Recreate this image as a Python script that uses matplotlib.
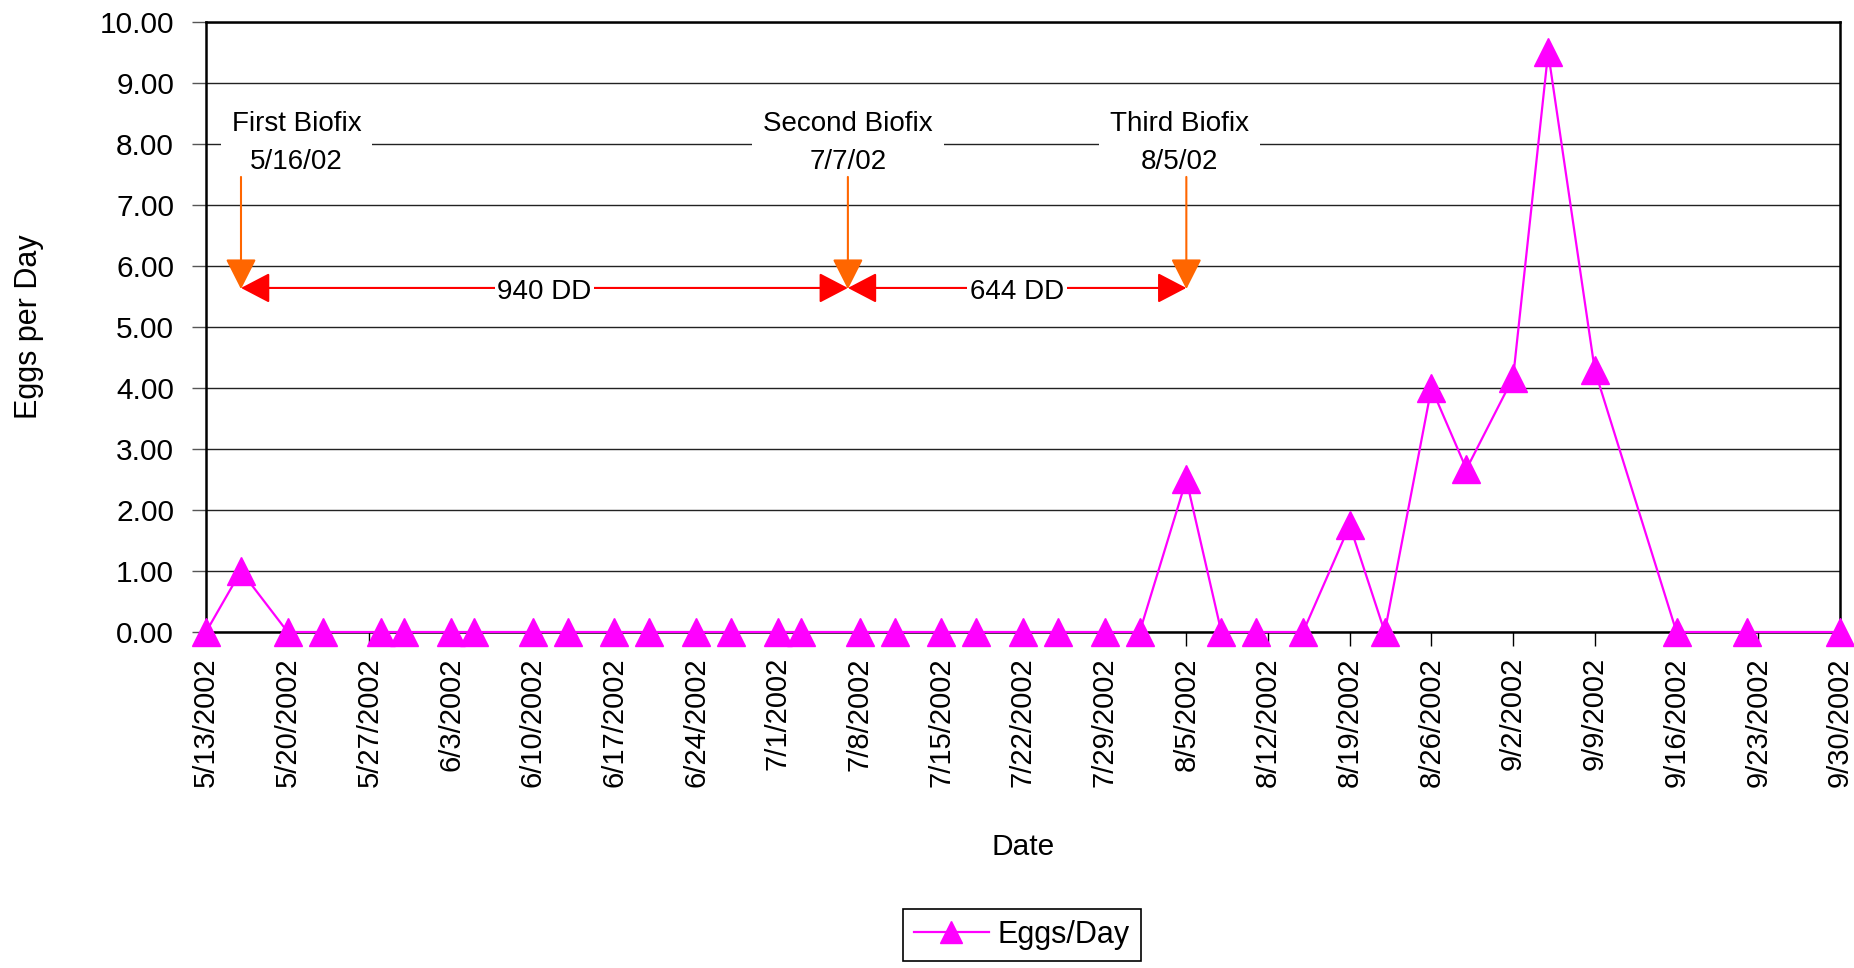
"""
codling moth egg counts per day, 2002 season, with the three biofix dates
and the degree-day totals between them
"""

import pandas as pd
import matplotlib
matplotlib.use("Agg")
import matplotlib.pyplot as plt
import matplotlib.dates as mdates
from matplotlib.ticker import FuncFormatter, FormatStrFormatter

plt.rcParams['font.family'] = ['Liberation Sans', 'DejaVu Sans']

# sample dates and eggs per day
sample_dates = ['2002-05-13', '2002-05-16', '2002-05-20', '2002-05-23', '2002-05-28',
                '2002-05-30', '2002-06-03', '2002-06-05', '2002-06-10', '2002-06-13',
                '2002-06-17', '2002-06-20', '2002-06-24', '2002-06-27', '2002-07-01',
                '2002-07-03', '2002-07-08', '2002-07-11', '2002-07-15', '2002-07-18',
                '2002-07-22', '2002-07-25', '2002-07-29', '2002-08-01', '2002-08-05',
                '2002-08-08', '2002-08-11', '2002-08-15', '2002-08-19', '2002-08-22',
                '2002-08-26', '2002-08-29', '2002-09-02', '2002-09-05', '2002-09-09',
                '2002-09-16', '2002-09-22', '2002-09-30']
eggs_per_day = [0, 1.0, 0, 0, 0,
                0, 0, 0, 0, 0,
                0, 0, 0, 0, 0,
                0, 0, 0, 0, 0,
                0, 0, 0, 0, 2.5,
                0, 0, 0, 1.75, 0,
                4.0, 2.67, 4.17, 9.5, 4.29,
                0, 0, 0]

# biofix dates and degree days between them
biofix_names = ['First Biofix', 'Second Biofix', 'Third Biofix']
biofix_dates = ['2002-05-16', '2002-07-07', '2002-08-05']
biofix_labels = ['5/16/02', '7/7/02', '8/5/02']
dd_labels = ['940 DD', '644 DD']

x_start, x_end = '2002-05-13', '2002-09-30'

dates = pd.to_datetime(sample_dates)
bio = pd.to_datetime(biofix_dates)
week_ticks = pd.date_range(x_start, x_end, freq='7D')

fig = plt.figure(figsize=(18.54, 9.68), dpi=100)
ax = fig.add_axes([0.1111, 0.3471, 0.8813, 0.6302])

ax.plot(dates, eggs_per_day, color='#FF00FF', lw=1.6, marker='^', ms=20,
        mec='#FF00FF', mfc='#FF00FF', label='Eggs/Day', clip_on=False, zorder=3)

ax.set_xlim(pd.Timestamp(x_start), pd.Timestamp(x_end))
ax.set_ylim(0, 10)
ax.set_yticks(range(0, 11))
ax.yaxis.set_major_formatter(FormatStrFormatter('%.2f'))
ax.set_xticks(week_ticks)
ax.xaxis.set_major_formatter(FuncFormatter(
    lambda v, pos: f"{mdates.num2date(v).month}/{mdates.num2date(v).day}/{mdates.num2date(v).year}"))
ax.tick_params(axis='x', labelrotation=90, labelsize=21, length=10, width=1, pad=8)
ax.tick_params(axis='y', labelsize=21.5, length=10, width=1, pad=13, color='#555555')

ax.grid(axis='y', color='#222222', lw=1.0)
ax.set_axisbelow(True)
for s in ax.spines.values():
    s.set_linewidth(1.8)
    s.set_color('black')

ax.set_xlabel('Date', fontsize=21.5)
ax.xaxis.set_label_coords(0.5, -0.33)
ax.set_ylabel('Eggs per Day', fontsize=22)
ax.yaxis.set_label_coords(-0.099, 0.5)

# biofix labels and orange arrows
text_dx = [40, 0, -5]
for name, d, lab, dx in zip(biofix_names, bio, biofix_labels, text_dx):
    ax.annotate(f"{name}\n{lab}", xy=(d, 8.02), xytext=(dx, 0), textcoords='offset points',
                ha='center', va='center', fontsize=20, linespacing=1.6, zorder=4,
                bbox=dict(boxstyle='square,pad=0.4', facecolor='white', edgecolor='none'))
    ax.annotate('', xy=(d, 5.62), xytext=(d, 7.46),
                arrowprops=dict(arrowstyle='-|>,head_length=0.95,head_width=0.48',
                                color='#FF6600', lw=1.5, shrinkA=0, shrinkB=0,
                                mutation_scale=20), zorder=6)

# red degree-day arrows between biofixes
for i, lab in enumerate(dd_labels):
    ax.annotate('', xy=(bio[i + 1], 5.64), xytext=(bio[i], 5.64),
                arrowprops=dict(arrowstyle='<|-|>,head_length=0.9,head_width=0.47',
                                color='#FF0000', lw=1.5, shrinkA=0, shrinkB=0,
                                mutation_scale=20), zorder=5)
    mid = bio[i] + (bio[i + 1] - bio[i]) / 2
    ax.annotate(lab, xy=(mid, 5.64), xytext=(0, -3), textcoords='offset points',
                ha='center', va='center', fontsize=20, zorder=5.5,
                bbox=dict(boxstyle='square,pad=0.1', facecolor='white', edgecolor='none'))

leg = fig.legend(loc='center', bbox_to_anchor=(0.5512, 0.034), fontsize=22,
                 frameon=True, fancybox=False, framealpha=1, edgecolor='black',
                 handlelength=2.45, handletextpad=0.3, borderpad=0.35, markerscale=0.8)
leg.get_frame().set_linewidth(1.2)

fig.savefig('out.png', dpi=100)
